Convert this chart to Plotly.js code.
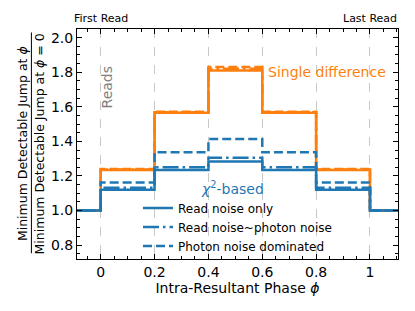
<!DOCTYPE html>
<html><head><meta charset="utf-8">
<script src="https://cdn.plot.ly/plotly-3.0.1.min.js"></script>
<style>html,body{margin:0;padding:0;background:#fff}#c{width:415px;height:311px}</style>
</head><body><div id="c"></div>
<script>
// step edges (phase) and step heights
const phase = [-0.2, 0, 0.2, 0.4, 0.6, 0.8, 1.0, 1.2];
const sdSolid   = [1.0, 1.235, 1.566, 1.81, 1.566, 1.235, 1.0, 1.0];
const sdDashDot = [1.0, 1.237, 1.568, 1.82, 1.568, 1.237, 1.0, 1.0];
const sdDash    = [1.0, 1.24, 1.572, 1.83, 1.572, 1.24, 1.0, 1.0];
const chiRead   = [1.0, 1.12, 1.235, 1.284, 1.235, 1.12, 1.0, 1.0];
const chiMixed  = [1.0, 1.132, 1.25, 1.305, 1.25, 1.132, 1.0, 1.0];
const chiPhoton = [1.0, 1.163, 1.337, 1.414, 1.337, 1.163, 1.0, 1.0];
const legendNames = ["Read noise only", "Read noise~photon noise", "Photon noise dominated"];
const xTickVals = [0, 0.2, 0.4, 0.6, 0.8, 1.0];
const xTickText = ["0", "0.2", "0.4", "0.6", "0.8", "1"];

const ORANGE = '#ff7f0e', BLUE = '#1f77b4';
const LW = 2.5;
const DASHDOT = '16px,4px,2.5px,4px';
const DASH = '9px,4px';
function tr(y, color, dash, name, show) {
  return {x: phase, y: y, type: 'scatter', mode: 'lines', line: {shape: 'hv', color: color, width: LW, dash: dash},
          name: name || '', showlegend: !!show, hoverinfo: 'skip'};
}
const data = [
  tr(sdSolid, ORANGE, 'solid'),
  tr(sdDashDot, ORANGE, DASHDOT),
  tr(sdDash, ORANGE, DASH),
  tr(chiRead, BLUE, 'solid', legendNames[0], true),
  tr(chiMixed, BLUE, DASHDOT, legendNames[1], true),
  tr(chiPhoton, BLUE, DASH, legendNames[2], true)
];
const F = 'DejaVu Sans, sans-serif';
const layout = {
  width: 415, height: 311,
  margin: {l: 77, r: 17, t: 29, b: 52},
  paper_bgcolor: '#fff', plot_bgcolor: '#fff',
  font: {family: F, color: '#000'},
  showlegend: true,
  legend: {x: 0.19, y: 0.285, xanchor: 'left', yanchor: 'top', bgcolor: 'rgba(0,0,0,0)',
           font: {size: 12, family: F}, tracegroupgap: 0, itemwidth: 30},
  xaxis: {range: [-0.088, 1.104], tickvals: xTickVals, ticktext: xTickText,
          ticks: 'inside', ticklen: 5, tickwidth: 1, tickcolor: '#000',
          showline: true, linecolor: '#000', linewidth: 1, mirror: 'ticks',
          showgrid: true, gridcolor: '#c8c8c8', griddash: 'dash', gridwidth: 1,
          zeroline: false, tickfont: {size: 14, family: F},
          minor: {dtick: 0.05, tick0: 0, ticks: 'inside', ticklen: 3, tickcolor: '#000', showgrid: false},
          title: {text: 'Intra-Resultant Phase <i>ϕ</i>', font: {size: 14, family: F}, standoff: 4}},
  yaxis: {range: [0.72, 2.05], dtick: 0.2, tick0: 0, tickformat: '.1f',
          ticks: 'inside', ticklen: 5, tickwidth: 1, tickcolor: '#000',
          showline: true, linecolor: '#000', linewidth: 1, mirror: 'ticks',
          showgrid: false, zeroline: false, tickfont: {size: 14, family: F},
          minor: {dtick: 0.05, tick0: 0, ticks: 'inside', ticklen: 3, tickcolor: '#000', showgrid: false}},
  annotations: [
    {text: 'First Read', x: 0, y: 1, xref: 'x', yref: 'paper', xanchor: 'center', yanchor: 'bottom', yshift: 2,
     showarrow: false, font: {size: 11, family: F}},
    {text: 'Last Read', x: 1, y: 1, xref: 'x', yref: 'paper', xanchor: 'center', yanchor: 'bottom', yshift: 2,
     showarrow: false, font: {size: 11, family: F}},
    {text: 'Reads', x: 0.022, y: 1.71, xref: 'x', yref: 'y', textangle: -90, showarrow: false,
     font: {size: 14, family: F, color: '#808080'}},
    {text: 'Single difference', x: 0.615, y: 1.8, xref: 'x', yref: 'y', xanchor: 'left', showarrow: false,
     font: {size: 14, family: F, color: ORANGE}},
    {text: '<i>χ</i><sup>2</sup>-based', x: 0.49, y: 1.128, xref: 'x', yref: 'y', showarrow: false,
     font: {size: 14, family: F, color: BLUE}},
    {text: 'Minimum Detectable Jump at <i>ϕ</i>', x: -0.171, y: 0.5, xref: 'paper', yref: 'paper',
     xanchor: 'center', yanchor: 'middle',
     textangle: -90, showarrow: false, font: {size: 12.5, family: F}},
    {text: 'Minimum Detectable Jump at <i>ϕ</i> = 0', x: -0.117, y: 0.5, xref: 'paper', yref: 'paper',
     xanchor: 'center', yanchor: 'middle',
     textangle: -90, showarrow: false, font: {size: 12.5, family: F}}
  ],
  shapes: [
    {type: 'line', xref: 'paper', yref: 'paper', x0: -0.142, x1: -0.142, y0: 0.025, y1: 0.985,
     line: {color: '#000', width: 1}}
  ]
};
Plotly.newPlot('c', data, layout, {displayModeBar: false, staticPlot: true});
</script></body></html>
